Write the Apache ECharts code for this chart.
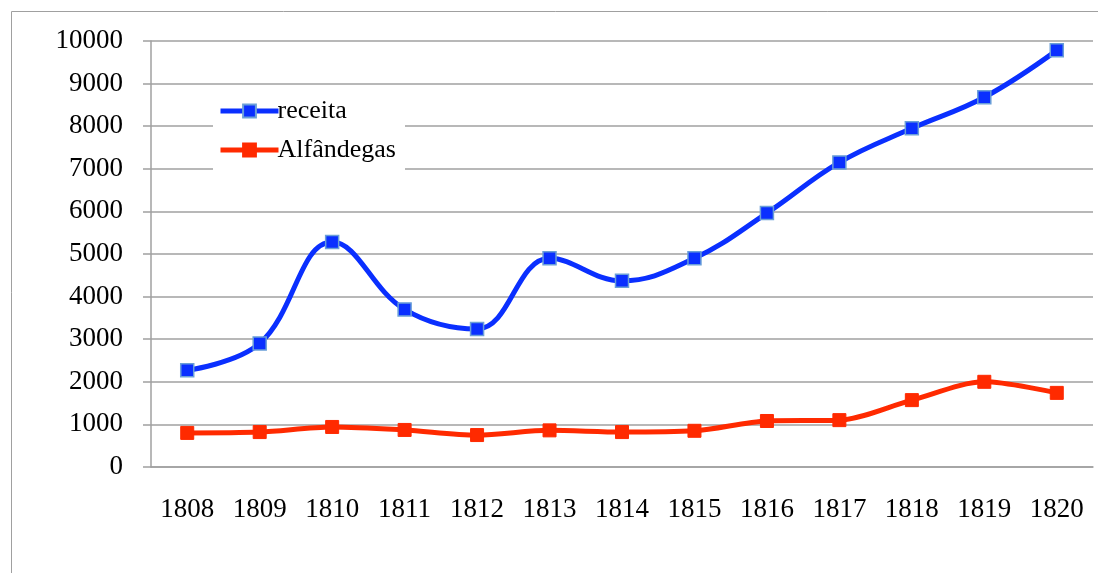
<!DOCTYPE html>
<html>
<head>
<meta charset="utf-8">
<script src="https://cdn.jsdelivr.net/npm/echarts@6/dist/echarts.min.js"></script>
<style>
  html, body { margin: 0; padding: 0; background: #fff; }
  #chart { width: 1098px; height: 573px; }
</style>
</head>
<body>
<div id="chart"></div>
<script>
const years = ['1808', '1809', '1810', '1811', '1812', '1813', '1814', '1815', '1816', '1817', '1818', '1819', '1820'];
const receita = [2270, 2900, 5280, 3700, 3240, 4900, 4370, 4900, 5960, 7150, 7950, 8680, 9780];
const alfandegas = [800, 820, 940, 870, 750, 860, 820, 850, 1080, 1100, 1570, 2000, 1740];

const font = 'Liberation Serif';

const chart = echarts.init(document.getElementById('chart'));
chart.setOption({
  animation: false,
  textStyle: { fontFamily: font },
  graphic: [
    {
      type: 'rect',
      shape: { x: 11.5, y: 11.5, width: 1200, height: 700 },
      style: { fill: null, stroke: '#a0a0a0', lineWidth: 1 },
      z: -10
    },
    {
      type: 'rect',
      shape: { x: 213, y: 98, width: 192, height: 72 },
      style: { fill: '#fff', stroke: null },
      z: 1
    }
  ],
  grid: { left: 151, top: 41, width: 942, height: 426, containLabel: false },
  legend: {
    orient: 'vertical',
    left: 213,
    top: 93,
    itemWidth: 58,
    itemHeight: 16,
    itemGap: 13,
    z: 5,
    lineStyle: { width: 5 },
    textStyle: { fontFamily: font, fontSize: 26, color: '#000', padding: [0, 0, 0, -6] },
    data: ['receita', 'Alfândegas']
  },
  xAxis: {
    type: 'category',
    data: years,
    boundaryGap: true,
    axisLine: { lineStyle: { color: '#a0a0a0', width: 1.5 } },
    axisTick: { length: 8, lineStyle: { color: '#a0a0a0', width: 1.5 } },
    axisLabel: { color: '#000', fontSize: 27, fontFamily: font, margin: 29 }
  },
  yAxis: {
    type: 'value',
    min: 0,
    max: 10000,
    interval: 1000,
    axisLine: { show: true, lineStyle: { color: '#a0a0a0', width: 1.5 } },
    axisTick: { show: true, length: 8, lineStyle: { color: '#a0a0a0', width: 1.5 } },
    axisLabel: { color: '#000', fontSize: 27, fontFamily: font, margin: 28, formatter: v => String(v) },
    splitLine: { lineStyle: { color: '#a0a0a0', width: 1.5 } }
  },
  series: [
    {
      name: 'receita',
      type: 'line',
      data: receita,
      smooth: 0.4,
      symbol: 'rect',
      symbolSize: 13,
      lineStyle: { color: '#0a2fff', width: 5 },
      itemStyle: { color: '#0a2fff', borderColor: '#6a9fd8', borderWidth: 1.5 },
      z: 3
    },
    {
      name: 'Alfândegas',
      type: 'line',
      data: alfandegas,
      smooth: 0.3,
      symbol: 'rect',
      symbolSize: 13,
      lineStyle: { color: '#ff2a00', width: 5 },
      itemStyle: { color: '#ff2a00', borderColor: '#ff2a00', borderWidth: 1 },
      z: 3
    }
  ]
});
</script>
</body>
</html>
